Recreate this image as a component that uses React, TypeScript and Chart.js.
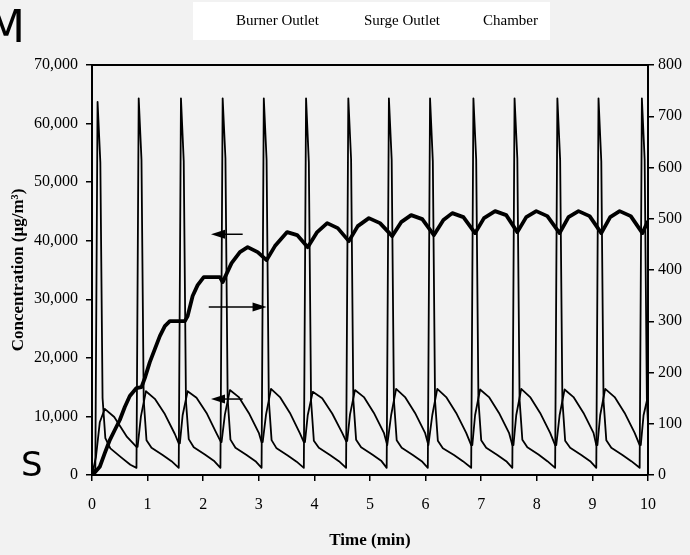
import React, { useEffect, useRef } from "react";
import { Chart, registerables } from "chart.js";

Chart.register(...registerables);

// ---------- data ----------
const seriesLabels = ["Burner Outlet", "Surge Outlet", "Chamber"];
const xTickValues = [0, 1, 2, 3, 4, 5, 6, 7, 8, 9, 10];

// Burner Outlet (right axis)
const burnerT = [
  0.0, 0.06, 0.10, 0.15, 0.19, 0.24, 0.33, 0.53, 0.69,
  0.80, 0.84, 0.89, 0.93, 0.98, 1.07, 1.27, 1.43,
  1.56, 1.60, 1.65, 1.69, 1.74, 1.83, 2.03, 2.19,
  2.31, 2.35, 2.40, 2.44, 2.49, 2.58, 2.78, 2.94,
  3.05, 3.09, 3.14, 3.18, 3.23, 3.32, 3.52, 3.68,
  3.81, 3.85, 3.90, 3.94, 3.99, 4.08, 4.28, 4.44,
  4.57, 4.61, 4.66, 4.70, 4.75, 4.84, 5.04, 5.20,
  5.30, 5.34, 5.39, 5.43, 5.48, 5.57, 5.77, 5.93,
  6.04, 6.08, 6.13, 6.17, 6.22, 6.31, 6.51, 6.67,
  6.82, 6.86, 6.91, 6.95, 7.00, 7.09, 7.29, 7.45,
  7.56, 7.60, 7.65, 7.69, 7.74, 7.83, 8.03, 8.19,
  8.33, 8.37, 8.42, 8.46, 8.51, 8.60, 8.80, 8.96,
  9.07, 9.11, 9.16, 9.20, 9.25, 9.34, 9.54, 9.70,
  9.85, 9.89, 9.94, 9.98, 10.0,
];
const burnerV = [
  0, 12, 728, 610, 150, 72, 52, 34, 20,
  14, 735, 615, 146, 68, 53, 39, 27,
  14, 735, 612, 144, 70, 54, 40, 28,
  14, 735, 618, 148, 69, 53, 39, 27,
  14, 735, 615, 146, 68, 52, 38, 26,
  14, 735, 610, 145, 67, 53, 39, 27,
  14, 735, 616, 147, 69, 54, 40, 28,
  14, 735, 615, 146, 68, 53, 39, 27,
  14, 735, 612, 145, 67, 52, 39, 27,
  14, 735, 615, 146, 68, 53, 39, 27,
  14, 735, 617, 147, 69, 54, 40, 27,
  14, 735, 614, 146, 67, 53, 39, 27,
  14, 735, 612, 145, 68, 53, 39, 27,
  14, 735, 615, 146, 100,
];

// Surge Outlet (left axis)
const surgeT = [
  0.0, 0.07, 0.14, 0.23, 0.40, 0.63, 0.80,
  0.82, 0.88, 0.97, 1.13, 1.31, 1.49, 1.56,
  1.58, 1.63, 1.72, 1.88, 2.06, 2.24, 2.32,
  2.33, 2.39, 2.48, 2.64, 2.82, 3.00, 3.05,
  3.07, 3.13, 3.22, 3.38, 3.56, 3.74, 3.81,
  3.83, 3.88, 3.97, 4.14, 4.32, 4.50, 4.57,
  4.59, 4.64, 4.73, 4.89, 5.07, 5.25, 5.31,
  5.32, 5.38, 5.47, 5.63, 5.81, 5.99, 6.05,
  6.06, 6.12, 6.21, 6.37, 6.55, 6.73, 6.82,
  6.84, 6.89, 6.98, 7.14, 7.32, 7.50, 7.56,
  7.58, 7.63, 7.72, 7.88, 8.06, 8.24, 8.33,
  8.35, 8.41, 8.50, 8.66, 8.84, 9.02, 9.07,
  9.09, 9.14, 9.23, 9.40, 9.58, 9.76, 9.85,
  9.87, 9.92, 10.0,
];
const surgeV = [
  0, 3000, 9000, 11300, 9900, 6500, 4800,
  4800, 10000, 14300, 13000, 10400, 7000, 5400,
  5400, 10200, 14300, 13200, 10600, 7100, 5600,
  5600, 10300, 14500, 13300, 10600, 7200, 5600,
  5600, 10300, 14700, 13300, 10600, 7100, 5600,
  5600, 10200, 14200, 13100, 10500, 7200, 5800,
  5800, 10300, 14500, 13300, 10600, 7200, 5100,
  5100, 10200, 14700, 13300, 10600, 7200, 5100,
  5100, 10200, 14700, 13300, 10600, 7200, 5100,
  5100, 10200, 14600, 13300, 10600, 7200, 5100,
  5100, 10200, 14700, 13300, 10600, 7200, 5100,
  5100, 10200, 14600, 13300, 10600, 7200, 5100,
  5100, 10200, 14700, 13300, 10600, 7200, 5100,
  5100, 10200, 13500,
];

// Chamber (left axis)
const chamberT = [
  0.01, 0.14, 0.23, 0.32, 0.41, 0.50, 0.59, 0.68, 0.80, 0.89,
  0.95, 1.04, 1.13, 1.22, 1.31, 1.40, 1.67, 1.72, 1.81, 1.90,
  2.01, 2.30, 2.35, 2.51, 2.66, 2.80, 2.98, 3.14, 3.29, 3.51,
  3.69, 3.88, 4.05, 4.23, 4.42, 4.62, 4.78, 4.98, 5.18, 5.40,
  5.56, 5.74, 5.94, 6.15, 6.32, 6.48, 6.68, 6.89, 7.05, 7.25,
  7.45, 7.65, 7.81, 7.99, 8.19, 8.41, 8.57, 8.75, 8.95, 9.16,
  9.32, 9.49, 9.69, 9.90, 9.99,
];
const chamberV = [
  0, 1400, 3750, 5970, 7680, 9390, 11600, 13480, 14850, 15000,
  16550, 19280, 21500, 23720, 25430, 26280, 26280, 27130, 30550, 32420,
  33790, 33790, 32930, 36180, 38050, 38900, 38050, 36690, 39080, 41470,
  40960, 38900, 41470, 43000, 42150, 39930, 42490, 43860, 43000, 40790,
  43170, 44370, 43690, 40960, 43520, 44710, 44030, 41300, 43860, 45050,
  44370, 41470, 44030, 45050, 44200, 41300, 44030, 45050, 44200, 41300,
  44030, 45050, 44200, 41300, 43170,
];

// direction arrows: [from time, to time, left-axis value]
const arrowFromT = [2.71, 2.10, 2.71];
const arrowToT = [2.14, 3.14, 2.14];
const arrowV = [41100, 28700, 12970];

const SERIF = "'Liberation Serif', 'Times New Roman', serif";
const INK = "#000000";

function pts(t: number[], v: number[]) {
  return t.map((x, i) => ({ x, y: v[i] }));
}

const decorPlugin = {
  id: "decor",
  beforeDraw(chart: any) {
    const { ctx, width, height } = chart;
    ctx.save();
    ctx.fillStyle = "#f2f2f2";
    ctx.fillRect(0, 0, width, height);
    ctx.restore();
  },
  afterDraw(chart: any) {
    const { ctx, chartArea } = chart;
    const xs = chart.scales.x;
    const ys = chart.scales.y;
    ctx.save();
    // top frame line
    ctx.strokeStyle = "#000";
    ctx.lineWidth = 2;
    ctx.beginPath();
    ctx.moveTo(chartArea.left, chartArea.top);
    ctx.lineTo(chartArea.right + 1, chartArea.top);
    ctx.stroke();

    // arrows
    ctx.fillStyle = "#000";
    ctx.lineWidth = 1.5;
    for (let i = 0; i < arrowV.length; i++) {
      const x0 = xs.getPixelForValue(arrowFromT[i]);
      const x1 = xs.getPixelForValue(arrowToT[i]);
      const y = ys.getPixelForValue(arrowV[i]);
      const dir = x1 > x0 ? 1 : -1;
      ctx.beginPath();
      ctx.moveTo(x0, y);
      ctx.lineTo(x1 - dir * 8, y);
      ctx.stroke();
      ctx.beginPath();
      ctx.moveTo(x1, y);
      ctx.lineTo(x1 - dir * 14, y - 4.5);
      ctx.lineTo(x1 - dir * 14, y + 4.5);
      ctx.closePath();
      ctx.fill();
    }

    // legend box
    ctx.fillStyle = "#ffffff";
    ctx.fillRect(193, 2, 357, 38);
    ctx.fillStyle = INK;
    ctx.font = `15px ${SERIF}`;
    ctx.textBaseline = "middle";
    ctx.textAlign = "left";
    const lx = [236, 364, 483];
    chart.data.datasets.forEach((d: any, i: number) => {
      ctx.fillText(d.label, lx[i], 21);
    });

    // stray letters
    ctx.fillStyle = "#000";
    ctx.font = "44px 'DejaVu Sans', sans-serif";
    ctx.textBaseline = "alphabetic";
    ctx.fillText("M", -13, 42);
    ctx.font = "34px 'DejaVu Sans', sans-serif";
    ctx.fillText("S", 21, 476);
    ctx.restore();
  },
};

export default function App() {
  const ref = useRef<HTMLCanvasElement | null>(null);

  useEffect(() => {
    document.body.style.margin = "0";
    const canvas = ref.current;
    if (!canvas) return;
    const line = (label: string, data: any[], axis: string, w: number) => ({
      label,
      data,
      yAxisID: axis,
      borderColor: "#000",
      backgroundColor: "#000",
      borderWidth: w,
      pointRadius: 0,
      tension: 0,
      fill: false,
      borderJoinStyle: "round" as const,
      borderCapStyle: "round" as const,
    });
    const tickFont = { family: SERIF, size: 16 };
    const titleFont = { family: SERIF, size: 17, weight: "bold" as const };
    const chart = new Chart(canvas, {
      type: "line",
      data: {
        datasets: [
          line(seriesLabels[0], pts(burnerT, burnerV), "y1", 1.8),
          line(seriesLabels[1], pts(surgeT, surgeV), "y", 1.8),
          line(seriesLabels[2], pts(chamberT, chamberV), "y", 3.8),
        ],
      },
      options: {
        animation: false,
        responsive: false,
        devicePixelRatio: 1,
        layout: { padding: { top: 65, left: 0, right: 0, bottom: 0 } },
        plugins: { legend: { display: false }, tooltip: { enabled: false } },
        scales: {
          x: {
            type: "linear",
            min: 0,
            max: 10,
            afterBuildTicks: (s: any) => {
              s.ticks = xTickValues.map((v) => ({ value: v }));
            },
            ticks: { font: tickFont, color: INK, padding: 14, maxRotation: 0 },
            grid: { display: true, drawOnChartArea: false, tickLength: 6, color: "#000", lineWidth: 1.5 },
            border: { color: "#000", width: 2 },
            title: {
              display: true,
              text: "Time (min)",
              color: INK,
              font: titleFont,
              padding: { top: 0, bottom: 4 },
            },
            afterFit: (s: any) => {
              s.height = 80;
            },
          },
          y: {
            position: "left",
            min: 0,
            max: 70000,
            ticks: {
              stepSize: 10000,
              font: tickFont,
              color: INK,
              padding: 8,
              callback: (v: any) => Number(v).toLocaleString("en-US"),
            },
            grid: { display: true, drawOnChartArea: false, tickLength: 6, color: "#000", lineWidth: 1.5 },
            border: { color: "#000", width: 2 },
            title: {
              display: true,
              text: "Concentration (µg/m³)",
              color: INK,
              font: titleFont,
              padding: { top: 8, bottom: 0 },
            },
            afterFit: (s: any) => {
              s.width = 92;
            },
          },
          y1: {
            position: "right",
            min: 0,
            max: 800,
            ticks: { stepSize: 100, font: tickFont, color: INK, padding: 4 },
            grid: { display: true, drawOnChartArea: false, tickLength: 6, color: "#000", lineWidth: 1.5 },
            border: { color: "#000", width: 2 },
            afterFit: (s: any) => {
              s.width = 42;
            },
          },
        },
      },
      plugins: [decorPlugin],
    });
    return () => chart.destroy();
  }, []);

  return (
    <div style={{ position: "fixed", left: 0, top: 0, width: 690, height: 555, background: "#f2f2f2" }}>
      <canvas ref={ref} width={690} height={555} style={{ display: "block" }} />
    </div>
  );
}
